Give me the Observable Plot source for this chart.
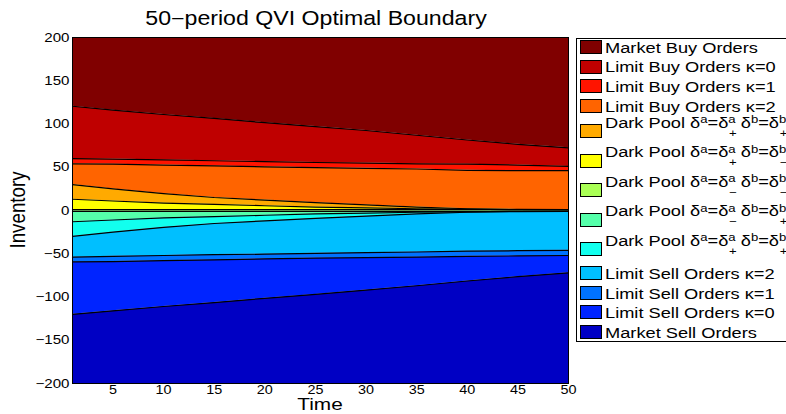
<!DOCTYPE html>
<html>
<head>
<meta charset="utf-8">
<script src="https://cdn.jsdelivr.net/npm/d3@7"></script>
<script src="https://cdn.jsdelivr.net/npm/@observablehq/plot@0.6"></script>
<style>
html,body{margin:0;padding:0;background:#fff;}
body{width:786px;height:414px;overflow:hidden;}
#wrap{position:relative;width:786px;height:414px;overflow:hidden;font-family:"Liberation Sans",Arial,sans-serif;color:#000;}
#chart{position:absolute;left:0;top:0;}
.txt{position:absolute;white-space:nowrap;line-height:1;}
#title{left:0;width:632px;top:8.7px;text-align:center;font-size:19.3px;transform:scaleX(1.2);transform-origin:316px 0;}
#xlabel{left:0;width:640px;top:398.5px;text-align:center;font-size:16px;line-height:0.8;transform:scaleX(1.3);transform-origin:320px 0;}
#ylabel{left:18px;top:210px;font-size:18.75px;transform:translate(-50%,-50%) rotate(-90deg) scaleY(1.2);}
#legbox{position:absolute;left:575.5px;top:37.5px;width:320px;height:304px;border:1px solid #000;background:#fff;box-sizing:border-box;}
.sw{position:absolute;left:580px;width:22px;height:14px;border:1px solid #000;box-sizing:border-box;}
.lt{position:absolute;left:605px;font-size:15.2px;line-height:1;white-space:nowrap;transform:scaleX(1.2);transform-origin:0 0;}
.sp{font-size:0.72em;position:relative;top:-0.4em;}
.ss{display:inline-block;position:relative;font-size:0.72em;line-height:1;}
.ss .u{position:relative;top:-0.4em;}
.ss .d{position:absolute;left:0.05em;top:0.8em;}
</style>
</head>
<body>
<div id="wrap">
  <div id="chart"></div>
  <div id="title" class="txt">50−period QVI Optimal Boundary</div>
  <div id="xlabel" class="txt">Time</div>
  <div id="ylabel" class="txt">Inventory</div>
  <div id="legbox"></div>
</div>
<script>
// ---- data ----
const times = [1, 5, 10, 15, 20, 25, 30, 35, 40, 45, 50];

// region boundaries, from top to bottom
const bMarketBuy_LimitBuy0 = [120.5, 116, 111, 106.5, 101.5, 97, 92.5, 87, 81.5, 76.5, 72.5];
const bLimitBuy0_LimitBuy1 = [60, 59.5, 58.5, 57.5, 56.5, 55.5, 54.8, 54, 53.5, 52.5, 51];
const bLimitBuy1_LimitBuy2 = [54, 53.5, 52.5, 51.5, 50.5, 49.5, 48.7, 48, 46.5, 46, 46];
const bLimitBuy2_DarkPool1 = [30, 25, 19.5, 15, 12, 9, 6.5, 4, 2, 1.2, 1];
const bDarkPool1_DarkPool2 = [13, 11, 8.5, 7, 5.5, 4, 3, 2, 1.5, 1, 1];
const bDarkPool2_DarkPool3 = [1, 1, 1, 1, 1, 1, 1, 1, 1, 1, 1];
const bDarkPool3_DarkPool4 = [-1, -1, -1, -1, -1, -1, -1, -1, -1, -1, -1];
const bDarkPool4_DarkPool5 = [-13, -11, -8.5, -7, -5.5, -4, -3, -2, -1.5, -1, -1];
const bDarkPool5_LimitSell2 = [-30, -25, -19.5, -15, -12, -9, -6.5, -4, -2, -1.2, -1];
const bLimitSell2_LimitSell1 = [-54, -53, -52, -51, -50.5, -49.5, -48.7, -48, -47, -46.5, -46];
const bLimitSell1_LimitSell0 = [-59.5, -59, -58, -57, -56, -55, -54.5, -54, -53, -52.5, -52];
const bLimitSell0_MarketSell = [-120, -116, -111, -106.5, -101.5, -97, -92, -87, -81.5, -76.5, -72];

const regionNames = [
  "Market Buy Orders", "Limit Buy Orders κ=0", "Limit Buy Orders κ=1", "Limit Buy Orders κ=2",
  "Dark Pool 1", "Dark Pool 2", "Dark Pool 3", "Dark Pool 4", "Dark Pool 5",
  "Limit Sell Orders κ=2", "Limit Sell Orders κ=1", "Limit Sell Orders κ=0", "Market Sell Orders"
];
const regionColors = [
  "#800000", "#bf0000", "#ff1400", "#ff6400",
  "#ffaa00", "#ffff00", "#aaff55", "#55ffaa", "#12ffee",
  "#00bfff", "#0072ff", "#0024ff", "#0000c4"
];
// dark pool legend subscripts [δa, δb]
const darkPoolSigns = [["+", "+"], ["+", "−"], ["−", "−"], ["−", "+"], ["+", "+"]];

const xTicks = [5, 10, 15, 20, 25, 30, 35, 40, 45, 50];
const yTicks = [-200, -150, -100, -50, 0, 50, 100, 150, 200];
const xDomain = [1, 50];
const yDomain = [-200, 200];

// ---- build tables ----
const boundaries = [bMarketBuy_LimitBuy0, bLimitBuy0_LimitBuy1, bLimitBuy1_LimitBuy2, bLimitBuy2_DarkPool1,
  bDarkPool1_DarkPool2, bDarkPool2_DarkPool3, bDarkPool3_DarkPool4, bDarkPool4_DarkPool5,
  bDarkPool5_LimitSell2, bLimitSell2_LimitSell1, bLimitSell1_LimitSell0, bLimitSell0_MarketSell];

const areaRows = [];
regionNames.forEach((name, i) => {
  const hi = i === 0 ? null : boundaries[i - 1];
  const lo = i === regionNames.length - 1 ? null : boundaries[i];
  times.forEach((t, j) => areaRows.push({region: name, t, hi: hi ? hi[j] : yDomain[1], lo: lo ? lo[j] : yDomain[0]}));
});
const lineRows = [];
boundaries.forEach((b, k) => times.forEach((t, j) => lineRows.push({k, t, v: b[j]})));

const fmt = d => (d < 0 ? "\u2212" + Math.abs(d) : String(d));

const chart = Plot.plot({
  width: 786, height: 414,
  marginLeft: 72, marginRight: 218, marginTop: 37, marginBottom: 31,
  style: {fontFamily: "'Liberation Sans', Arial, sans-serif", fontSize: "12.6px", color: "#000", background: "transparent", overflow: "visible"},
  x: {domain: xDomain},
  y: {domain: yDomain},
  color: {type: "ordinal", domain: regionNames, range: regionColors},
  marks: [
    Plot.areaY(areaRows, {x: "t", y1: "lo", y2: "hi", z: "region", fill: "region", curve: "linear"}),
    Plot.line(lineRows, {x: "t", y: "v", z: "k", stroke: "#000", strokeWidth: 1.2, curve: "linear"}),
    Plot.frame({stroke: "#000", strokeWidth: 1}),
    Plot.axisX({ticks: xTicks, tickSize: 0, tickPadding: 1.5, fontSize: 12, tickFormat: fmt, label: null}),
    Plot.axisY({ticks: yTicks, tickSize: 0, tickPadding: 3, tickFormat: fmt, label: null})
  ]
});
document.getElementById("chart").appendChild(chart);

// horizontally stretched tick text, like the reference
chart.querySelectorAll('g[aria-label="x-axis tick label"] text, g[aria-label="y-axis tick label"] text').forEach(t => {
  const tr = t.getAttribute("transform");
  if (tr) {
    t.setAttribute("transform", tr + " scale(1.2,1)");
  } else {
    const x = +(t.getAttribute("x") || 0), y = +(t.getAttribute("y") || 0);
    t.removeAttribute("x"); t.removeAttribute("y");
    t.setAttribute("transform", `translate(${x},${y}) scale(1.2,1)`);
  }
});

// ---- legend ----
const wrap = document.getElementById("wrap");
let yTop = 40;
let dpIndex = 0;
regionNames.forEach((name, i) => {
  const isDP = name.startsWith("Dark Pool");
  const sw = document.createElement("div");
  sw.className = "sw";
  sw.style.background = regionColors[i];
  const lt = document.createElement("div");
  lt.className = "lt";
  if (isDP) {
    const swTop = yTop + 5.4;
    sw.style.top = swTop + "px";
    const [sa, sb] = darkPoolSigns[dpIndex++];
    lt.innerHTML = `Dark Pool δ<span class="sp">a</span>=δ<span class="ss"><span class="u">a</span><span class="d">${sa}</span></span> δ<span class="sp">b</span>=δ<span class="ss"><span class="u">b</span><span class="d">${sb}</span></span>`;
    lt.style.top = (swTop - 9.2) + "px";
    yTop += 29.5;
  } else {
    sw.style.top = yTop + "px";
    lt.textContent = name;
    lt.style.top = (yTop - 0.2) + "px";
    yTop += 19.65;
  }
  wrap.appendChild(sw);
  wrap.appendChild(lt);
});
</script>
</body>
</html>
